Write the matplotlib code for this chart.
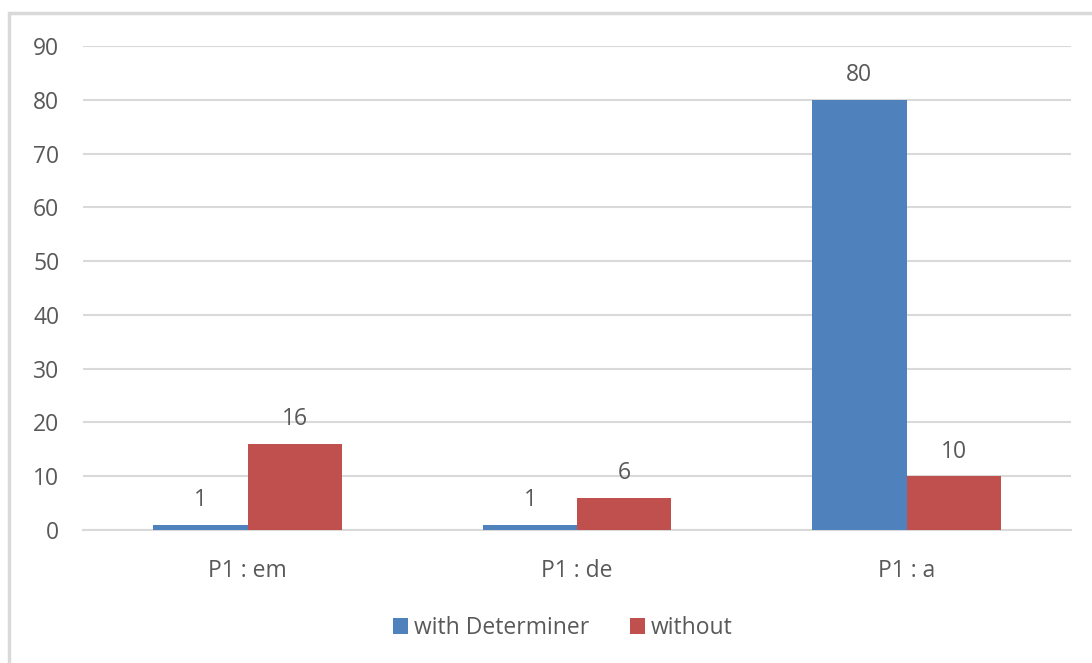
import matplotlib.pyplot as plt
import numpy as np
from matplotlib.patches import Rectangle

categories = ['P1 : em', 'P1 : de', 'P1 : a']
with_determiner = [1, 1, 80]
without = [16, 6, 10]
series_names = ['with Determiner', 'without']

BLUE = '#4F81BD'
RED = '#C0504D'
TEXT = '#595959'
GRID = '#D9D9D9'
FS = 16.5

plt.rcParams['font.family'] = ['Open Sans', 'DejaVu Sans']

fig = plt.figure(figsize=(10.92, 6.63), dpi=100)
ax = fig.add_axes([0.076, 0.2006, 0.905, 0.730])

# chart border
fig.patches.append(Rectangle((9 / 1092, -0.01), 1.02, 1 - 13 / 663 + 0.01,
                             transform=fig.transFigure, fill=False,
                             edgecolor=GRID, linewidth=2.5))

x = np.arange(len(categories))
w = 0.286
b1 = ax.bar(x - w / 2, with_determiner, w, color=BLUE, label=series_names[0], zorder=3)
b2 = ax.bar(x + w / 2, without, w, color=RED, label=series_names[1], zorder=3)

for bars in (b1, b2):
    for bar in bars:
        h = bar.get_height()
        ax.annotate(f'{h:g}', (bar.get_x() + bar.get_width() / 2, h),
                    xytext=(0, 9), textcoords='offset points',
                    ha='center', va='bottom', fontsize=FS, color=TEXT)

ax.set_xlim(-0.5, 2.5)
ax.set_ylim(0, 90)
ax.set_yticks(range(0, 91, 10))
ax.set_xticks(x)
ax.set_xticklabels(categories)
ax.yaxis.grid(True, color=GRID, linewidth=1.5, zorder=0)
ax.set_axisbelow(True)
for s in ['top', 'right', 'left']:
    ax.spines[s].set_visible(False)
ax.spines['bottom'].set_color(GRID)
ax.spines['bottom'].set_linewidth(1.5)
ax.tick_params(axis='both', length=0, labelsize=FS, colors=TEXT)
ax.tick_params(axis='y', pad=17)
ax.tick_params(axis='x', pad=21)

leg = fig.legend(loc='center', bbox_to_anchor=(563 / 1092, 1 - 628 / 663), ncol=2,
                 frameon=False, fontsize=FS, handlelength=0.65, handleheight=0.65,
                 handletextpad=0.25, columnspacing=1.8)
for t in leg.get_texts():
    t.set_color(TEXT)

fig.savefig('out.png', dpi=100)
